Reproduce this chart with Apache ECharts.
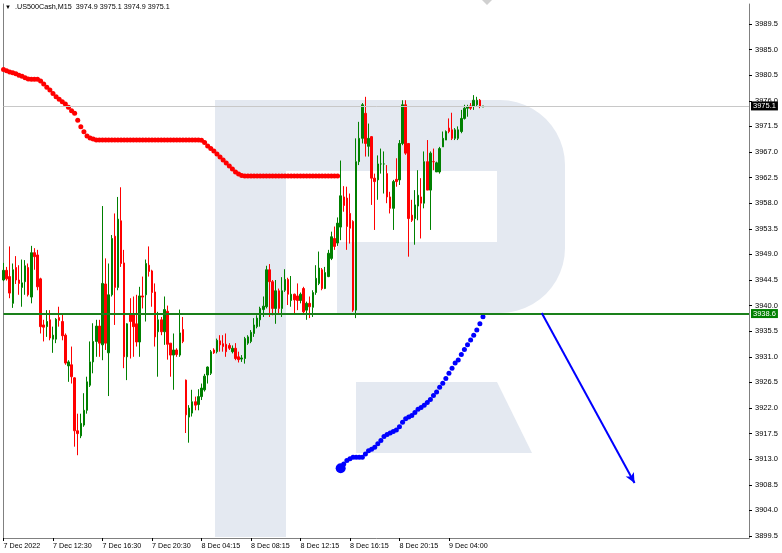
<!DOCTYPE html>
<html><head><meta charset="utf-8">
<script src="https://cdn.jsdelivr.net/npm/echarts@6/dist/echarts.min.js"></script>
<style>html,body{margin:0;padding:0;background:#fff}#c{width:782px;height:553px}</style>
</head><body><div id="c"></div>
<script>
// ---------- data ----------
const symbolName = '.US500Cash,M15';
const lastQuote = ['3974.9', '3975.1', '3974.9', '3975.1'];
const timeLabels = ['7 Dec 2022', '7 Dec 12:30', '7 Dec 16:30', '7 Dec 20:30', '8 Dec 04:15',
  '8 Dec 08:15', '8 Dec 12:15', '8 Dec 16:15', '8 Dec 20:15', '9 Dec 04:00'];
const labelStep = 16;      // bars between time labels
const slotCount = 242;     // bar slots across the chart (incl. empty future space)
const yMin = 3899.5, yMax = 3989.5, yStep = 4.5;

const opens = [3944.5,3946.2,3945.1,3940.4,3946.7,3944.5,3943.2,3944.2,3946.7,3941.5,
3949.3,3948.9,3944.7,3936.6,3936.3,3937.5,3934.1,3934.1,3937.9,3937.2,
3934.8,3929.4,3929.6,3927.3,3918.0,3917.1,3919.0,3921.6,3926.0,3930.1,
3933.7,3936.4,3933.1,3943.8,3931.7,3941.9,3952.2,3943.2,3954.9,3947.5,
3931.0,3938.6,3938.6,3936.8,3933.6,3941.7,3941.9,3947.1,3946.1,3942.4,
3935.4,3937.5,3935.4,3939.0,3933.4,3931.3,3932.2,3931.3,3935.8,3926.9,
3920.4,3921.1,3923.1,3922.6,3924.0,3925.2,3927.8,3928.1,3932.2,3931.9,
3933.8,3933.3,3933.2,3933.0,3931.9,3932.5,3931.0,3930.6,3930.7,3933.4,
3933.7,3935.1,3936.3,3937.5,3939.3,3939.8,3946.3,3944.2,3939.5,3942.6,
3939.5,3942.7,3944.6,3940.9,3942.0,3941.7,3940.9,3943.0,3939.2,3940.4,
3939.7,3942.3,3943.9,3946.3,3943.0,3945.1,3948.3,3951.8,3951.0,3953.8,
3959.1,3958.9,3956.2,3954.8,3939.2,3965.3,3969.4,3973.8,3968.0,3969.7,
3962.4,3962.1,3964.9,3964.9,3963.2,3959.1,3957.1,3962.2,3962.1,3968.5,
3975.3,3968.5,3955.9,3955.3,3957.5,3959.1,3958.0,3965.3,3960.3,3965.3,
3963.5,3963.5,3967.9,3969.1,3971.2,3970.9,3969.4,3969.4,3970.6,3972.9,
3974.7,3975.1,3975.0,3975.3,3976.1,3974.9];
const closes = [3946.2,3944.7,3942.2,3946.3,3944.5,3943.9,3944.0,3947.0,3941.9,3949.3,
3948.6,3943.3,3936.3,3936.2,3937.2,3934.3,3934.8,3937.6,3937.4,3934.7,
3929.9,3930.1,3927.5,3918.0,3917.5,3919.3,3921.6,3926.6,3930.1,3933.7,
3936.4,3933.4,3943.9,3933.4,3941.9,3951.8,3943.2,3955.2,3947.4,3931.0,
3936.8,3937.2,3936.3,3933.6,3941.7,3941.5,3947.4,3946.0,3942.3,3934.5,
3937.5,3935.4,3939.3,3933.2,3931.3,3932.2,3931.4,3935.2,3933.7,3920.8,
3922.0,3923.1,3922.5,3924.0,3925.5,3927.6,3929.2,3931.9,3931.7,3933.9,
3933.1,3932.8,3931.9,3932.5,3932.5,3930.7,3930.5,3930.8,3934.2,3934.5,
3935.3,3936.6,3937.8,3939.5,3939.9,3946.3,3944.2,3939.5,3942.6,3939.5,
3942.6,3944.6,3942.0,3942.0,3941.0,3940.9,3942.0,3938.9,3940.4,3939.8,
3942.3,3944.8,3946.6,3943.0,3945.8,3949.2,3952.1,3950.4,3954.5,3959.3,
3957.6,3953.9,3953.6,3939.2,3965.3,3969.4,3975.3,3968.5,3969.4,3962.4,
3961.8,3964.9,3964.9,3964.9,3959.1,3957.1,3961.8,3961.8,3968.5,3975.3,
3966.8,3955.3,3955.0,3957.7,3959.4,3958.0,3965.3,3960.3,3966.8,3965.3,
3965.1,3967.6,3969.4,3970.6,3970.6,3969.4,3970.9,3970.9,3972.9,3974.7,
3975.0,3974.7,3976.1,3976.1,3975.0,3975.1];
const lows = [3944.3,3944.4,3941.3,3939.6,3943.8,3941.9,3939.8,3941.9,3941.6,3940.4,
3946.3,3942.7,3935.1,3933.7,3934.5,3933.9,3931.7,3933.4,3936.3,3933.9,
3929.6,3926.6,3926.3,3915.2,3913.7,3916.7,3918.7,3921.0,3925.7,3928.1,
3931.0,3931.0,3930.4,3932.2,3924.1,3941.6,3936.6,3942.7,3946.8,3929.0,
3926.9,3930.7,3931.0,3932.8,3931.0,3939.5,3937.2,3945.1,3939.8,3932.8,
3927.5,3934.8,3933.1,3930.5,3927.5,3925.2,3931.0,3931.0,3933.4,3917.6,
3915.9,3920.5,3921.6,3921.6,3923.4,3924.9,3926.3,3927.8,3931.5,3931.6,
3931.9,3931.9,3931.0,3932.2,3931.6,3930.4,3930.0,3930.1,3929.8,3933.1,
3933.4,3934.5,3936.0,3936.3,3938.0,3939.5,3938.0,3938.3,3936.8,3938.6,
3938.0,3942.4,3940.1,3939.8,3938.6,3939.2,3940.4,3938.5,3937.5,3937.8,
3938.0,3941.9,3943.6,3942.7,3942.9,3945.0,3948.0,3949.8,3950.5,3951.5,
3956.5,3949.8,3950.9,3938.9,3937.8,3964.7,3968.5,3966.2,3966.2,3957.7,
3953.3,3958.6,3963.2,3959.7,3958.0,3956.2,3953.3,3960.9,3961.2,3968.2,
3966.5,3948.6,3954.7,3950.7,3955.0,3951.8,3957.1,3960.3,3953.3,3963.8,
3963.5,3963.2,3967.9,3969.1,3970.3,3969.1,3969.1,3969.1,3970.3,3972.7,
3973.2,3974.4,3974.4,3975.1,3974.7,3974.9];
const highs = [3947.5,3946.8,3950.4,3947.4,3948.7,3947.1,3948.1,3948.0,3947.4,3950.5,
3950.1,3949.8,3944.9,3937.5,3939.2,3939.2,3936.3,3937.8,3939.8,3938.6,
3935.1,3930.4,3932.8,3927.4,3921.0,3921.0,3924.6,3927.5,3933.7,3936.9,
3937.5,3937.5,3957.5,3948.3,3947.4,3952.4,3956.2,3959.1,3960.8,3949.8,
3936.9,3941.3,3941.6,3941.9,3943.3,3945.1,3948.1,3950.4,3946.3,3943.9,
3938.9,3938.0,3941.6,3940.0,3933.4,3935.1,3932.5,3939.3,3938.0,3927.0,
3922.5,3925.2,3924.0,3925.3,3926.3,3928.0,3929.3,3932.2,3932.5,3934.2,
3934.8,3934.8,3935.1,3933.4,3933.0,3933.4,3931.9,3931.3,3934.5,3934.8,
3935.7,3937.8,3938.3,3939.8,3941.6,3947.0,3947.3,3944.5,3944.5,3943.0,
3945.0,3946.4,3944.9,3945.2,3942.1,3943.9,3942.3,3943.3,3940.7,3941.6,
3942.7,3947.1,3949.5,3946.6,3946.8,3949.8,3953.0,3953.9,3955.5,3965.5,
3961.0,3960.9,3959.7,3955.0,3969.4,3972.3,3975.6,3976.7,3972.0,3969.8,
3963.2,3966.4,3967.6,3967.1,3964.7,3960.0,3962.1,3965.9,3969.1,3976.1,
3976.1,3968.5,3958.6,3960.3,3963.8,3962.4,3967.1,3969.1,3967.1,3967.6,
3965.3,3967.9,3970.6,3970.8,3972.9,3973.9,3971.2,3971.5,3974.4,3975.3,
3975.3,3975.6,3977.0,3976.7,3976.3,3975.1];

const redStart = 0;
const redDots = [3981.5,3981.3,3981.06,3980.94,3980.77,3980.48,3980.3,3980.06,3979.83,3979.78,
3979.78,3979.78,3979.5,3978.95,3978.4,3977.9,3977.3,3976.7,3976.27,3975.85,
3975.44,3974.86,3974.26,3973.8,3972.6,3971.45,3970.57,3969.8,3969.46,3969.3,
3969.1,3969.1,3969.1,3969.1,3969.1,3969.1,3969.1,3969.1,3969.1,3969.1,
3969.1,3969.1,3969.1,3969.1,3969.1,3969.1,3969.1,3969.1,3969.1,3969.1,
3969.1,3969.1,3969.1,3969.1,3969.1,3969.1,3969.1,3969.1,3969.1,3969.1,
3969.1,3969.1,3969.1,3969.1,3969.05,3968.65,3968.07,3967.6,3967.18,3966.65,
3966.13,3965.6,3965.07,3964.54,3964.02,3963.49,3963.14,3962.87,3962.79,3962.79,
3962.79,3962.79,3962.79,3962.79,3962.79,3962.79,3962.79,3962.79,3962.79,3962.79,
3962.79,3962.79,3962.79,3962.79,3962.79,3962.79,3962.79,3962.79,3962.79,3962.79,
3962.79,3962.79,3962.79,3962.79,3962.79,3962.79,3962.79,3962.79,3962.79];
const blueStart = 109;
const blueDots = [3911.4,3912.17,3912.76,3913.1,3913.35,3913.35,3913.35,3913.35,3913.93,3914.5,
3914.76,3915.1,3915.7,3916.27,3917.0,3917.35,3917.6,3917.85,3918.15,3918.7,
3919.5,3920.1,3920.4,3920.7,3921.2,3921.8,3922.1,3922.5,3922.95,3923.5,
3924.2,3924.8,3925.65,3926.35,3927.2,3928.1,3929.0,3929.9,3930.45,3931.4,
3932.3,3933.1,3933.96,3934.8,3935.7,3936.8,3938.06];

const supportLevel = 3938.6;
const currentPrice = 3975.1;
const arrowFrom = [174, 3938.7];
const arrowTo = [204, 3908.8];

// ---------- build ----------
const cats = Array.from({length: slotCount}, (_, i) => String(i));
const candles = opens.map((o, i) => [o, closes[i], lows[i], highs[i]]);
const redData = redDots.map((v, i) => [redStart + i, v]);
const blueData = blueDots.map((v, i) => [blueStart + i, v]);
const showLabel = (idx) => idx % labelStep === 0 && idx / labelStep < timeLabels.length;

const FONT = 'Liberation Sans';
const FRAME = '#808080';
const WM = '#e4e9f1';

// watermark "R" (decorative background)
function arcPts(cx, cy, r, a0, a1, n) {
  const pts = [];
  for (let k = 0; k <= n; k++) {
    const a = a0 + (a1 - a0) * k / n;
    pts.push([cx + r * Math.cos(a), cy + r * Math.sin(a)]);
  }
  return pts;
}
const bowl = [[215, 100], [500, 100]]
  .concat(arcPts(500, 165, 65, -Math.PI / 2, 0, 12))
  .concat(arcPts(500, 248, 65, 0, Math.PI / 2, 12))
  .concat([[337, 313], [337, 242], [497, 242], [497, 171], [215, 171]]);

const chart = echarts.init(document.getElementById('c'), null, {renderer: 'canvas'});
chart.setOption({
  animation: false,
  backgroundColor: '#ffffff',
  textStyle: {fontFamily: FONT},
  graphic: [
    {type: 'rect', z: -10, shape: {x: 215, y: 100, width: 71, height: 437}, style: {fill: WM}},
    {type: 'polygon', z: -10, shape: {points: bowl}, style: {fill: WM}},
    {type: 'polygon', z: -10, shape: {points: [[356, 382], [497, 382], [532, 453], [356, 453]]}, style: {fill: WM}},
    {type: 'polygon', z: 5, shape: {points: [[482, 0], [492, 0], [487, 5]]}, style: {fill: '#d0d0d0'}},
    {type: 'text', z: 10, x: 5, y: 4, style: {text: '\u25BC', font: '6px ' + FONT, fill: '#000'}},
    {type: 'text', z: 10, x: 15, y: 4, style: {text: symbolName + '  ' + lastQuote.join(' '), font: '7.2px ' + FONT, fill: '#000'}}
  ],
  grid: [
    {left: 3.5, right: 33, top: 24, bottom: 17},
    {left: 3.5, right: 33, top: 4, bottom: 15}
  ],
  xAxis: [
    {type: 'category', gridIndex: 0, data: cats, boundaryGap: false, show: false},
    {type: 'category', gridIndex: 1, data: cats, boundaryGap: false,
      axisLine: {show: true, lineStyle: {color: FRAME, width: 1}},
      axisTick: {show: true, interval: showLabel, length: 3, lineStyle: {color: '#000'}},
      axisLabel: {show: true, interval: showLabel, align: 'left', margin: 5,
        fontSize: 7.2, color: '#000', fontFamily: FONT,
        formatter: (v, idx) => timeLabels[idx / labelStep] || ''},
      splitLine: {show: false}}
  ],
  yAxis: [
    {type: 'value', gridIndex: 0, position: 'right', min: yMin, max: yMax, interval: yStep,
      axisLine: {show: false},
      axisTick: {show: true, length: 3, lineStyle: {color: '#000'}},
      axisLabel: {show: true, margin: 6, fontSize: 7.5, color: '#000', fontFamily: FONT,
        formatter: (v) => v.toFixed(1)},
      splitLine: {show: false}},
    {type: 'value', gridIndex: 1, position: 'right', min: 0, max: 1,
      axisLine: {show: true, lineStyle: {color: FRAME}}, axisTick: {show: false},
      axisLabel: {show: false}, splitLine: {show: false}},
    {type: 'value', gridIndex: 1, position: 'left', min: 0, max: 1,
      axisLine: {show: true, lineStyle: {color: FRAME}}, axisTick: {show: false},
      axisLabel: {show: false}, splitLine: {show: false}}
  ],
  series: [
    {
      type: 'candlestick', xAxisIndex: 0, yAxisIndex: 0, data: candles,
      barWidth: 2,
      itemStyle: {color: '#008000', color0: '#ff0000', borderColor: '#008000', borderColor0: '#ff0000', borderWidth: 1},
      markLine: {
        silent: true, symbol: ['none', 'none'], animation: false,
        data: [
          {yAxis: supportLevel, lineStyle: {color: '#1a801a', width: 2, type: 'solid'},
            label: {show: true, position: 'end', distance: 2, formatter: supportLevel.toFixed(1),
              color: '#fff', backgroundColor: '#008000', padding: [1, 2, 0, 2], fontSize: 7.5, fontFamily: FONT}},
          {yAxis: currentPrice, lineStyle: {color: '#c8c8c8', width: 1, type: 'solid'},
            label: {show: true, position: 'end', distance: 2, formatter: currentPrice.toFixed(1),
              color: '#fff', backgroundColor: '#000', padding: [1, 2, 0, 2], fontSize: 7.5, fontFamily: FONT}},
          [
            {coord: arrowFrom, symbol: 'none', lineStyle: {color: '#0000ff', width: 2, type: 'solid'}, label: {show: false}},
            {coord: arrowTo, symbol: 'arrow', symbolSize: [7, 10]}
          ]
        ]
      }
    },
    {type: 'scatter', xAxisIndex: 0, yAxisIndex: 0, data: redData, symbol: 'circle', symbolSize: 5,
      itemStyle: {color: '#ff0000', opacity: 1}, silent: true},
    {type: 'scatter', xAxisIndex: 0, yAxisIndex: 0, data: blueData, symbol: 'circle',
      symbolSize: (v, p) => p.dataIndex === 0 ? 10 : 5,
      itemStyle: {color: '#0000ff', opacity: 1}, silent: true}
  ]
});
</script>
</body></html>
